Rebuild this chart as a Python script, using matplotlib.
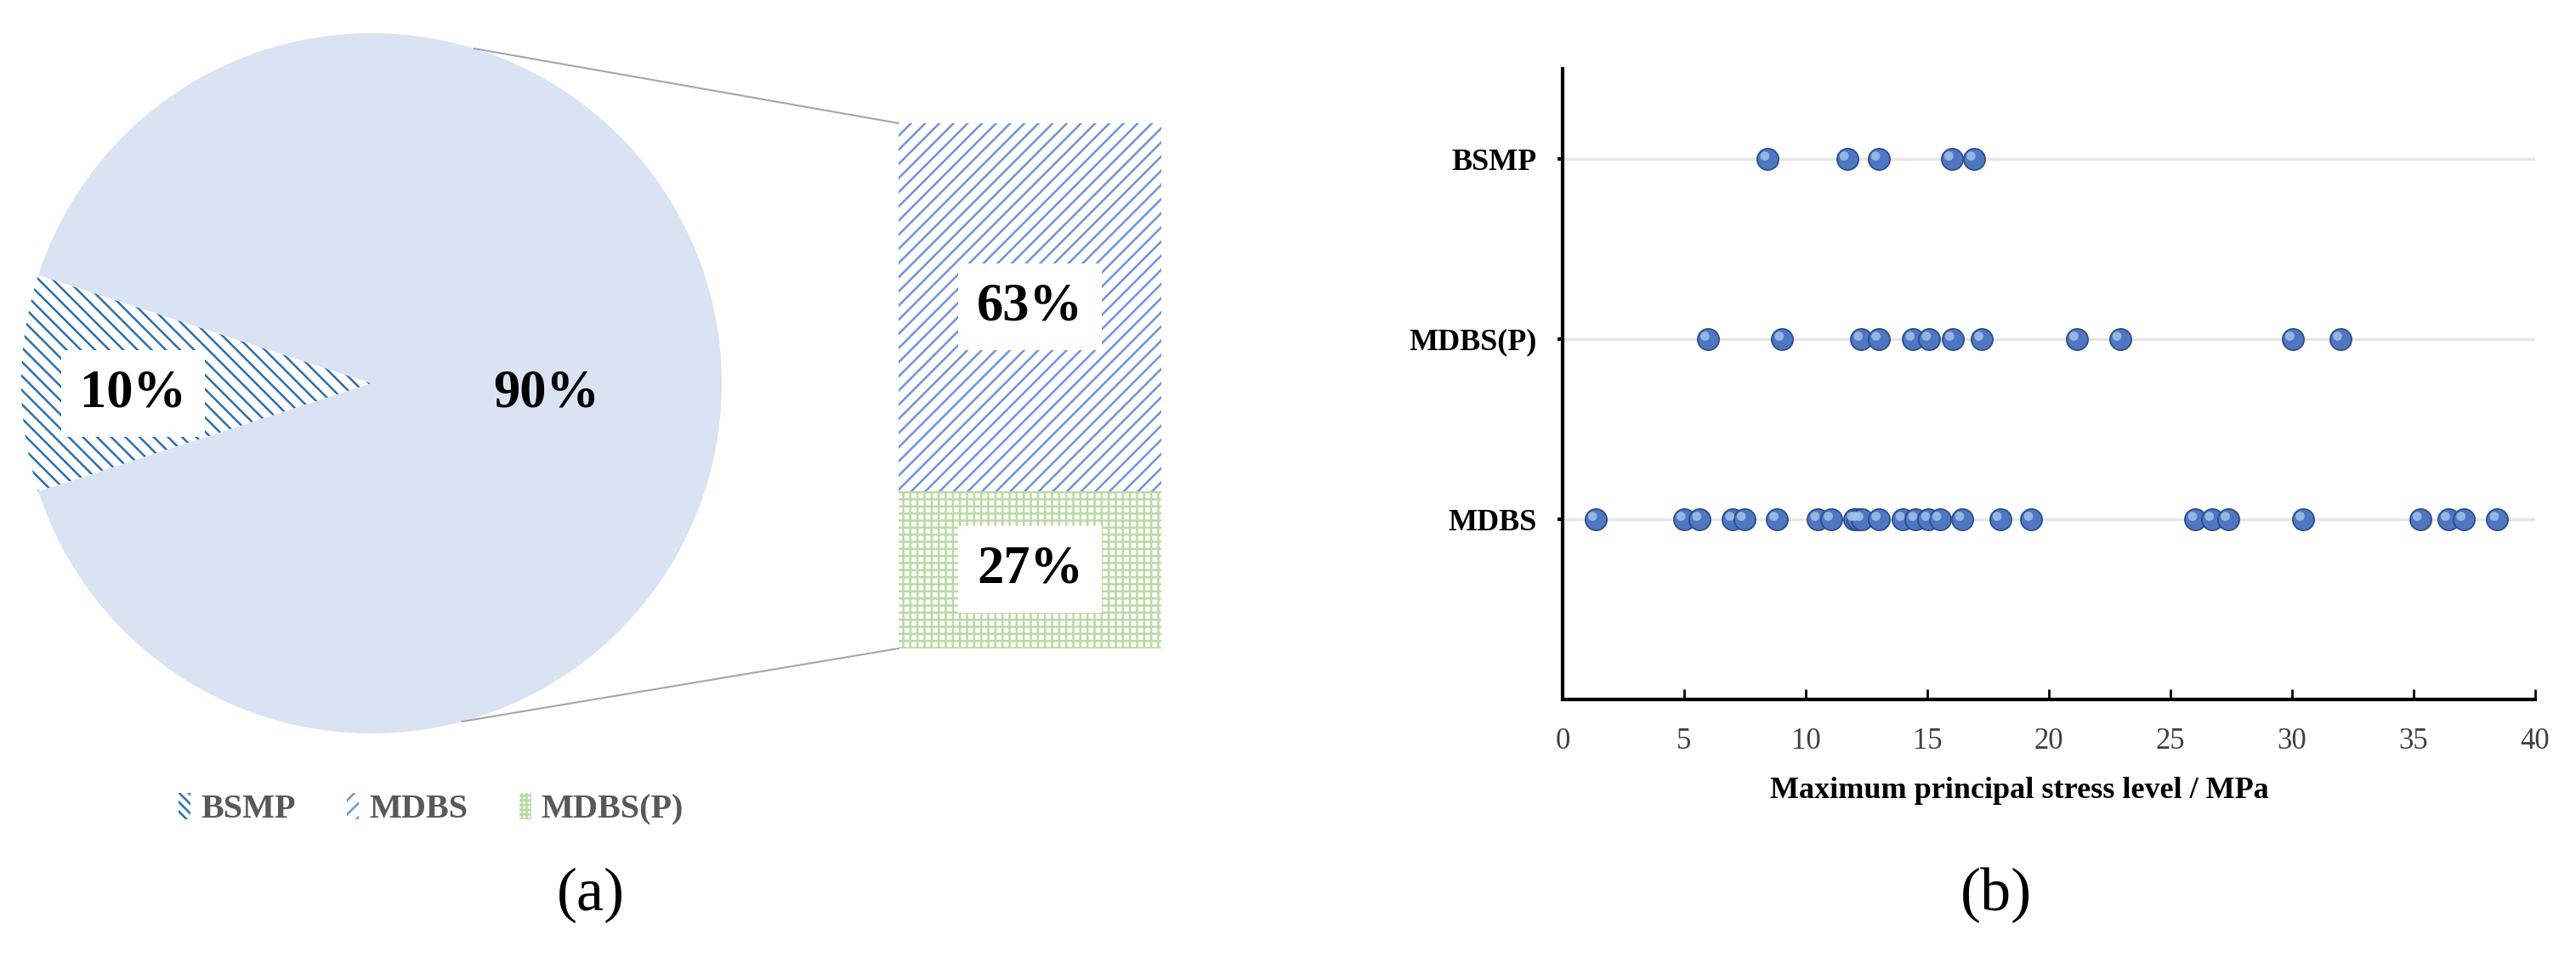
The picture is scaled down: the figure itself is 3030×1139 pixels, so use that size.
import matplotlib
matplotlib.use("Agg")
import matplotlib.pyplot as plt
from matplotlib.patches import Patch, ConnectionPatch
from matplotlib.transforms import offset_copy
import numpy as np

plt.rcParams["font.family"] = ["Liberation Serif", "DejaVu Serif"]
plt.rcParams["hatch.linewidth"] = 1.8

# (a) share of failure types
pie_labels = ["BSMP", "MDBS"]
pie_values = [10, 90]
bar_labels = ["MDBS(P)", "MDBS"]
bar_values = [27, 63]

# (b) maximum principal stress per failure type (MPa)
categories = ["MDBS", "MDBS(P)", "BSMP"]
mdbs_stress = [1.35, 4.99, 5.64, 7.00, 7.47, 8.81, 10.50, 11.05, 12.00, 12.15,
               12.31, 13.01, 14.00, 14.52, 15.05, 15.51, 16.45, 17.99, 19.28,
               26.03, 26.72, 27.38, 30.45, 35.27, 36.43, 37.07, 38.44]
mdbsp_stress = [5.98, 9.03, 12.28, 13.01, 14.41, 15.08, 16.04, 17.24, 21.15,
                22.92, 30.03, 31.99]
bsmp_stress = [8.44, 11.70, 12.99, 16.01, 16.92]
x_ticks = [0, 5, 10, 15, 20, 25, 30, 35, 40]

BSMP_COLOR = "#2e6fae"
MDBS_FILL = "#dae3f3"
MDBS_HATCH = "#6f95d9"
MDBSP_HATCH = "#b9dba3"
LABEL_BOX = dict(facecolor="white", edgecolor="none", boxstyle="square,pad=0.35")

W, H = 3030, 1139
fig = plt.figure(figsize=(W / 100, H / 100), dpi=100)

# ---- (a) pie ----
ax_pie = fig.add_axes([25 / W, (H - 863) / H, 824 / W, 824 / H])
wedges, _ = ax_pie.pie(pie_values, startangle=162, radius=1.0, counterclock=True)
wedges[0].set_facecolor("white")
wedges[0].set_edgecolor(BSMP_COLOR)
wedges[0].set_hatch("\\\\")
wedges[0].set_linewidth(0)
wedges[1].set_facecolor(MDBS_FILL)
wedges[1].set_edgecolor(MDBS_FILL)
wedges[1].set_linewidth(0)
ax_pie.set_xlim(-1, 1)
ax_pie.set_ylim(-1, 1)
ax_pie.set_aspect("equal")
ax_pie.axis("off")

for w, val, r, boxed in zip(wedges, pie_values, [0.68, 0.5], [True, False]):
    ang = np.deg2rad((w.theta1 + w.theta2) / 2)
    ax_pie.text(r * np.cos(ang), r * np.sin(ang) - 0.03, f"{val}%", ha="center", va="center",
                fontsize=45, fontweight="bold", bbox=LABEL_BOX if boxed else None)

# ---- (a) bar ----
ax_bar = fig.add_axes([1057 / W, (H - 763) / H, 309 / W, 618 / H])
bottom = 0
bar_styles = [(MDBSP_HATCH, "++"), (MDBS_HATCH, "//")]
for val, (col, hatch) in zip(bar_values, bar_styles):
    ax_bar.bar(0, val, bottom=bottom, width=1.0, facecolor="white", edgecolor=col,
               hatch=hatch, linewidth=0)
    ax_bar.text(0, bottom + val / 2, f"{val}%", ha="center", va="center",
                fontsize=45, fontweight="bold", bbox=LABEL_BOX)
    bottom += val
ax_bar.set_xlim(-0.5, 0.5)
ax_bar.set_ylim(0, sum(bar_values))
ax_bar.axis("off")

for ang, yb in [(73, sum(bar_values)), (-75, 0)]:
    a = np.deg2rad(ang)
    con = ConnectionPatch(xyA=(np.cos(a), np.sin(a)), coordsA=ax_pie.transData,
                          xyB=(-0.5, yb), coordsB=ax_bar.transData,
                          color="#a6a6a6", lw=1.5)
    fig.add_artist(con)

handles = [
    Patch(facecolor="white", edgecolor=BSMP_COLOR, hatch="\\\\\\", linewidth=0, label="BSMP"),
    Patch(facecolor="white", edgecolor=MDBS_HATCH, hatch="//", linewidth=0, label="MDBS"),
    Patch(facecolor="white", edgecolor=MDBSP_HATCH, hatch="+++", linewidth=0, label="MDBS(P)"),
]
leg = fig.legend(handles=handles, loc="center", bbox_to_anchor=(507 / W, 1 - 952 / H),
                 ncol=3, frameon=False, handlelength=0.35, handleheight=0.8,
                 handletextpad=0.3, columnspacing=1.5,
                 prop={"size": 29, "weight": "bold"})
for t in leg.get_texts():
    t.set_color("#595959")

# ---- (b) scatter ----
ax = fig.add_axes([1838 / W, (H - 823) / H, 1144 / W, 742 / H])
rows = [mdbs_stress, mdbsp_stress, bsmp_stress]
hl = offset_copy(ax.transData, fig=fig, x=-2.5, y=2.5, units="points")
for i, vals in enumerate(rows):
    yy = np.full(len(vals), i + 1)
    ax.axhline(i + 1, color="#e6e6e6", lw=2.5, zorder=1)
    ax.scatter(vals, yy, s=330, color="#4f76c0", edgecolor="#2b4a88", linewidth=1.2, zorder=3)
    ax.scatter(vals, yy, s=60, color="#a9c4ee", edgecolor="none", alpha=0.8, zorder=4,
               transform=hl)

ax.set_xlim(0, 40)
ax.set_ylim(0, 3.5)
ax.set_xticks(x_ticks)
ax.set_yticks([1, 2, 3])
ax.set_yticklabels(categories, fontsize=26, fontweight="bold")
ax.tick_params(axis="x", direction="in", length=9, width=2, labelsize=25, pad=24,
               labelcolor="#404040")
ax.tick_params(axis="y", direction="out", length=4, width=3, pad=18)
for side in ["top", "right"]:
    ax.spines[side].set_visible(False)
for side in ["left", "bottom"]:
    ax.spines[side].set_linewidth(3)
ax.set_xlabel("Maximum principal stress level / MPa", fontsize=26, fontweight="bold",
              labelpad=18)
ax.xaxis.label.set_x(0.47)

fig.text(695 / W, 1 - 1053 / H, "(a)", ha="center", va="center", fontsize=52)
fig.text(2348 / W, 1 - 1053 / H, "(b)", ha="center", va="center", fontsize=52)

fig.savefig("out.png", dpi=100)
